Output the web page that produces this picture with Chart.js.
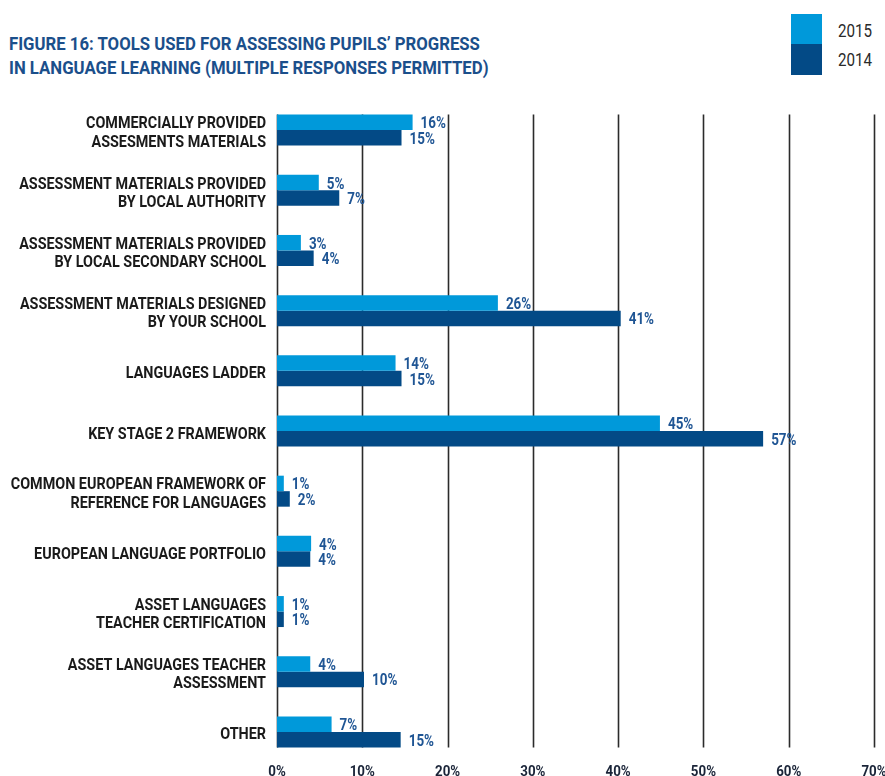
<!DOCTYPE html>
<html>
<head>
<meta charset="utf-8">
<script src="https://cdn.jsdelivr.net/npm/chart.js@4.4.1/dist/chart.umd.min.js"></script>
<style>
  html, body { margin: 0; padding: 0; background: #ffffff; }
  #wrap { position: relative; width: 885px; height: 776px; overflow: hidden; }
  #title { position: absolute; left: 9px; top: 32px; font-family: Roboto, sans-serif; font-weight: bold; font-size: 18px; line-height: 24px; color: #1b4f8b; white-space: nowrap; transform: scaleX(0.93); transform-origin: 0 0; }
  .leg { position: absolute; left: 791px; width: 31px; }
  .legt { position: absolute; left: 838px; font-family: Roboto, sans-serif; font-size: 18.5px; line-height: 20px; color: #2a2a2a; transform: scaleX(0.82); transform-origin: 0 0; }
  canvas { position: absolute; left: 0; top: 0; }
</style>
</head>
<body>
<div id="wrap">
  <div id="title">FIGURE 16: TOOLS USED FOR ASSESSING PUPILS’ PROGRESS<br>IN LANGUAGE LEARNING (MULTIPLE RESPONSES PERMITTED)</div>
  <div class="leg" id="leg2015" style="top:14px;height:30px;"></div>
  <div class="leg" id="leg2014" style="top:44px;height:31px;"></div>
  <div class="legt" style="top:21px;">2015</div>
  <div class="legt" style="top:50px;">2014</div>
  <canvas id="c" width="885" height="776"></canvas>
</div>
<script>
const categories = [
  ['COMMERCIALLY PROVIDED', 'ASSESMENTS MATERIALS'],
  ['ASSESSMENT MATERIALS PROVIDED', 'BY LOCAL AUTHORITY'],
  ['ASSESSMENT MATERIALS PROVIDED', 'BY LOCAL SECONDARY SCHOOL'],
  ['ASSESSMENT MATERIALS DESIGNED', 'BY YOUR SCHOOL'],
  'LANGUAGES LADDER',
  'KEY STAGE 2 FRAMEWORK',
  ['COMMON EUROPEAN FRAMEWORK OF', 'REFERENCE FOR LANGUAGES'],
  'EUROPEAN LANGUAGE PORTFOLIO',
  ['ASSET LANGUAGES', 'TEACHER CERTIFICATION'],
  ['ASSET LANGUAGES TEACHER', 'ASSESSMENT'],
  'OTHER'
];
// bar lengths
const values2015 = [15.9, 4.9, 2.8, 25.9, 13.9, 44.9, 0.8, 4.0, 0.8, 3.9, 6.4];
const values2014 = [14.6, 7.3, 4.3, 40.3, 14.6, 57.0, 1.5, 3.9, 0.8, 10.2, 14.5];
// printed value labels
const labels2015 = [16, 5, 3, 26, 14, 45, 1, 4, 1, 4, 7];
const labels2014 = [15, 7, 4, 41, 15, 57, 2, 4, 1, 10, 15];
const xTicks = [0, 10, 20, 30, 40, 50, 60, 70];

const color2015 = '#0099da';
const color2014 = '#034a86';
document.getElementById('leg2015').style.background = color2015;
document.getElementById('leg2014').style.background = color2014;

function drawScaled(ctx, text, x, y, sx, align) {
  ctx.save();
  ctx.translate(x, y);
  ctx.scale(sx, 1);
  ctx.textAlign = align;
  ctx.textBaseline = 'alphabetic';
  ctx.fillText(text, 0, 0);
  ctx.restore();
}

const gridPlugin = {
  id: 'customGrid',
  beforeDatasetsDraw(chart) {
    const ctx = chart.ctx;
    const xs = chart.scales.x;
    const m0 = chart.getDatasetMeta(0).data[0];
    const m1 = chart.getDatasetMeta(1).data;
    const last = m1[m1.length - 1];
    const top = m0.y - m0.height / 2;
    const bottom = last.y + last.height / 2;
    ctx.save();
    ctx.strokeStyle = '#2b2b2b';
    ctx.lineWidth = 1.6;
    xTicks.forEach(v => {
      const x = Math.round(xs.getPixelForValue(v)) + 0.5;
      ctx.beginPath();
      ctx.moveTo(x, top);
      ctx.lineTo(x, bottom);
      ctx.stroke();
    });
    ctx.restore();
  }
};

const textPlugin = {
  id: 'texts',
  afterDatasetsDraw(chart) {
    const ctx = chart.ctx;
    const xs = chart.scales.x;
    const ys = chart.scales.y;
    ctx.save();
    // value labels
    ctx.font = 'bold 16px Roboto, sans-serif';
    ctx.fillStyle = '#1f5594';
    const lbls = [labels2015, labels2014];
    [0, 1].forEach(di => {
      chart.getDatasetMeta(di).data.forEach((bar, i) => {
        drawScaled(ctx, lbls[di][i] + '%', bar.x + 8, bar.y + 6, 0.84, 'left');
      });
    });
    // category labels
    ctx.font = 'bold 17px Roboto, sans-serif';
    ctx.fillStyle = '#1a1a1a';
    categories.forEach((cat, i) => {
      const lines = Array.isArray(cat) ? cat : [cat];
      const yc = ys.getPixelForValue(i) + 1.5;
      const lh = 18.5;
      const start = yc - (lines.length - 1) * lh / 2;
      lines.forEach((ln, k) => {
        drawScaled(ctx, ln, 266, start + k * lh + 6, 0.846, 'right');
      });
    });
    // x tick labels
    ctx.font = 'bold 15.5px Roboto, sans-serif';
    ctx.fillStyle = '#1a2438';
    xTicks.forEach(v => {
      drawScaled(ctx, v + '%', xs.getPixelForValue(v), 775.5, 0.86, 'center');
    });
    ctx.restore();
  }
};

new Chart(document.getElementById('c'), {
  type: 'bar',
  data: {
    labels: categories,
    datasets: [
      { label: '2015', data: values2015, backgroundColor: color2015, categoryPercentage: 0.515, barPercentage: 1 },
      { label: '2014', data: values2014, backgroundColor: color2014, categoryPercentage: 0.515, barPercentage: 1 }
    ]
  },
  options: {
    indexAxis: 'y',
    responsive: false,
    animation: false,
    layout: { padding: { top: 100, right: 11, left: 0, bottom: 0 } },
    plugins: { legend: { display: false }, tooltip: { enabled: false } },
    scales: {
      x: {
        min: 0, max: 70,
        grid: { display: false, drawTicks: false },
        border: { display: false },
        ticks: { display: false },
        afterFit: (s) => { s.height = 14; s.paddingRight = 0; s.paddingLeft = 0; }
      },
      y: {
        grid: { display: false, drawTicks: false },
        border: { display: false },
        ticks: { display: false },
        afterFit: (s) => { s.width = 277; s.paddingTop = 0; s.paddingBottom = 0; }
      }
    }
  },
  plugins: [gridPlugin, textPlugin]
});
</script>
</body>
</html>
